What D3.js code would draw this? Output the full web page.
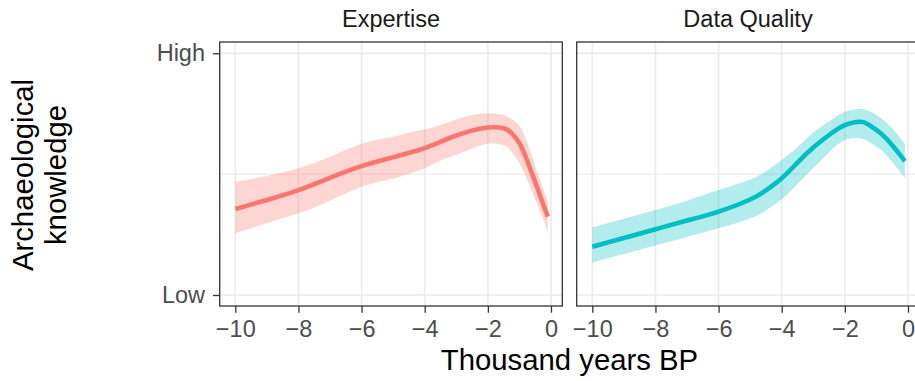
<!DOCTYPE html>
<html>
<head>
<meta charset="utf-8">
<script src="https://cdn.jsdelivr.net/npm/d3@7"></script>
<style>
  body { margin: 0; background: #fff; }
  svg { display: block; font-family: "Liberation Sans", Arial, sans-serif; }
</style>
</head>
<body>
<div id="vis"></div>
<script>
var w = 915, h = 381;

// thousand years BP, shared by both facets
var years = [-10, -9, -8, -7, -6, -5, -4.5, -4, -3.5, -3, -2.5, -2, -1.5, -1.25, -1, -0.75, -0.5, -0.25, -0.1];

var facets = ["Expertise", "Data Quality"];
var colors = ["#F8766D", "#00BFC4"];

// smoothed fit and its confidence band (0 = Low, 1 = High)
var expertiseFit = [0.356, 0.393, 0.434, 0.485, 0.533, 0.570, 0.588, 0.608, 0.634, 0.660, 0.680, 0.693, 0.690, 0.670, 0.628, 0.554, 0.467, 0.376, 0.324];
var expertiseLo  = [0.255, 0.297, 0.338, 0.390, 0.448, 0.482, 0.502, 0.524, 0.556, 0.580, 0.606, 0.626, 0.620, 0.594, 0.545, 0.476, 0.395, 0.315, 0.255];
var expertiseHi  = [0.469, 0.492, 0.524, 0.572, 0.626, 0.655, 0.672, 0.685, 0.703, 0.726, 0.745, 0.752, 0.745, 0.728, 0.699, 0.630, 0.535, 0.440, 0.385];

var qualityFit = [0.200, 0.236, 0.272, 0.308, 0.345, 0.395, 0.433, 0.483, 0.548, 0.610, 0.662, 0.703, 0.717, 0.705, 0.683, 0.655, 0.620, 0.580, 0.554];
var qualityLo  = [0.134, 0.170, 0.205, 0.240, 0.276, 0.317, 0.350, 0.396, 0.459, 0.525, 0.590, 0.641, 0.648, 0.635, 0.614, 0.588, 0.550, 0.510, 0.483];
var qualityHi  = [0.280, 0.315, 0.352, 0.390, 0.434, 0.478, 0.512, 0.559, 0.611, 0.672, 0.718, 0.758, 0.770, 0.762, 0.745, 0.720, 0.690, 0.650, 0.625];

var xTicks = [-10, -8, -6, -4, -2, 0];
var yTicks = [0, 1];
var yLabels = ["Low", "High"];

var series = [
  {fit: expertiseFit, lo: expertiseLo, hi: expertiseHi},
  {fit: qualityFit, lo: qualityLo, hi: qualityHi}
];

// layout
var panelTop = 42, panelBottom = 306;
var panelW = 342.6, panelGap = 14.4, panelLeft = 219.7;

var x = d3.scaleLinear().domain([-10, 0]).range([15.6, 331.3]);
var y = d3.scaleLinear().domain([0, 1]).range([295 - panelTop, 53.3 - panelTop]);
var ph = panelBottom - panelTop;

var svg = d3.select("#vis").append("svg")
  .attr("width", w)
  .attr("height", h);

facets.forEach(function(name, i) {
  var s = series[i];
  var pts = years.map(function(t, j) { return {t: t, fit: s.fit[j], lo: s.lo[j], hi: s.hi[j]}; });

  var g = svg.append("g")
    .attr("transform", "translate(" + (panelLeft + i * (panelW + panelGap)) + "," + panelTop + ")");

  // grid
  g.selectAll(".vgrid").data(xTicks).enter().append("line")
    .attr("x1", function(d) { return x(d); }).attr("x2", function(d) { return x(d); })
    .attr("y1", 0).attr("y2", ph)
    .attr("stroke", "#EBEBEB").attr("stroke-width", 1.7);
  g.append("line")
    .attr("x1", 0).attr("x2", panelW)
    .attr("y1", y(0.5)).attr("y2", y(0.5))
    .attr("stroke", "#EBEBEB").attr("stroke-width", 1.1);
  g.selectAll(".hgrid").data(yTicks).enter().append("line")
    .attr("x1", 0).attr("x2", panelW)
    .attr("y1", function(d) { return y(d); }).attr("y2", function(d) { return y(d); })
    .attr("stroke", "#EBEBEB").attr("stroke-width", 1.7);

  var area = d3.area()
    .x(function(d) { return x(d.t); })
    .y0(function(d) { return y(d.lo); })
    .y1(function(d) { return y(d.hi); })
    .curve(d3.curveNatural);

  var line = d3.line()
    .x(function(d) { return x(d.t); })
    .y(function(d) { return y(d.fit); })
    .curve(d3.curveNatural);

  g.append("path").datum(pts)
    .attr("d", area)
    .attr("fill", colors[i])
    .attr("fill-opacity", 0.3);

  g.append("path").datum(pts)
    .attr("d", line)
    .attr("fill", "none")
    .attr("stroke", colors[i])
    .attr("stroke-width", 4.6);

  // border
  g.append("rect")
    .attr("width", panelW).attr("height", ph)
    .attr("fill", "none")
    .attr("stroke", "#333333").attr("stroke-width", 1.3);

  // strip label
  g.append("text")
    .attr("x", panelW / 2).attr("y", 27 - panelTop)
    .attr("text-anchor", "middle")
    .attr("font-size", 23.5)
    .attr("fill", "#1A1A1A")
    .text(name);

  // x axis
  var xa = g.append("g")
    .attr("transform", "translate(0," + ph + ")")
    .call(d3.axisBottom(x).tickValues(xTicks).tickSize(6.7).tickPadding(7.5));
  xa.select(".domain").remove();
  xa.selectAll(".tick line").attr("stroke", "#333333").attr("stroke-width", 1.3);
  xa.selectAll(".tick text").attr("fill", "#4D4D4D").attr("font-size", 23.5)
    .attr("font-family", "Liberation Sans, Arial, sans-serif");

  if (i === 0) {
    var ya = g.append("g")
      .call(d3.axisLeft(y).tickValues(yTicks).tickSize(6.7).tickPadding(8)
        .tickFormat(function(d, k) { return yLabels[k]; }));
    ya.select(".domain").remove();
    ya.selectAll(".tick line").attr("stroke", "#333333").attr("stroke-width", 1.3);
    ya.selectAll(".tick text").attr("fill", "#4D4D4D").attr("font-size", 23.5)
      .attr("font-family", "Liberation Sans, Arial, sans-serif");
  }
});

// axis titles
svg.append("text")
  .attr("x", panelLeft + panelW + panelGap / 2)
  .attr("y", 370)
  .attr("text-anchor", "middle")
  .attr("font-size", 29.3)
  .attr("fill", "#000")
  .text("Thousand years BP");

var yt = svg.append("text")
  .attr("transform", "translate(0," + 175 + ") rotate(-90)")
  .attr("text-anchor", "middle")
  .attr("font-size", 29.3)
  .attr("fill", "#000");
yt.append("tspan").attr("x", 0).attr("y", 32.5).text("Archaeological");
yt.append("tspan").attr("x", 0).attr("y", 65.5).text("knowledge");
</script>
</body>
</html>
